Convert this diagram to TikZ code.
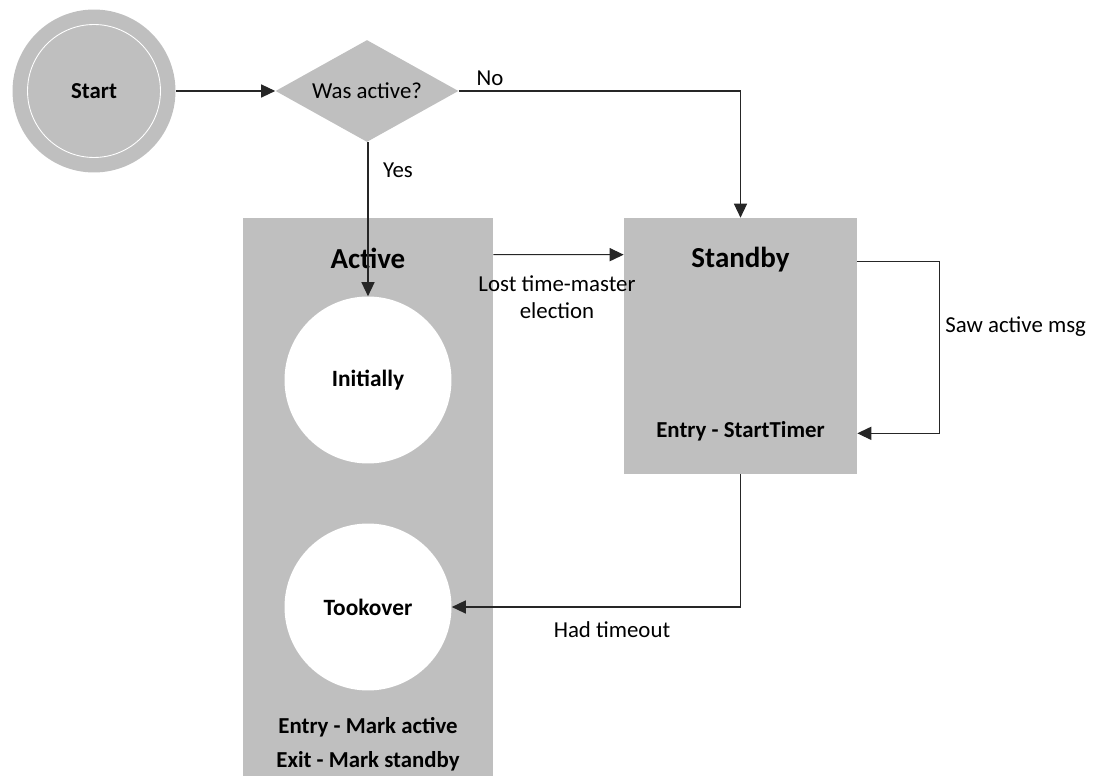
\documentclass[tikz,border=0pt]{standalone}
\usepackage{fontspec}
\setmainfont{Carlito}
\usetikzlibrary{shapes.geometric,arrows.meta}
\definecolor{stategray}{HTML}{BFBFBF}
\begin{document}
\begin{tikzpicture}[x=0.02cm,y=-0.02cm,
  statebox/.style={rectangle,fill=stategray,draw=none,inner sep=0pt},
  substate/.style={circle,fill=white,draw=none,minimum size=3.34cm,inner sep=0pt,font=\fontsize{13.3}{16}\selectfont\bfseries},
  title/.style={font=\fontsize{16.5}{20}\selectfont\bfseries,inner sep=0pt},
  note/.style={font=\fontsize{13}{19.3}\selectfont\bfseries,inner sep=0pt},
  lbl/.style={font=\fontsize{13}{15.3}\selectfont,inner sep=0pt},
  conn/.style={draw=black!85,line width=0.6pt,-{Triangle[length=8pt,width=7.5pt]}}]
\useasboundingbox (0,0) rectangle (1100,776);

% start state and decision
\node[circle,fill=stategray,minimum size=3.26cm,inner sep=0pt] (start) at (94,91) {};
\draw[white,line width=0.5pt] (start.center) circle[radius=1.33cm];
\node[note] (startT) at (start.center) {Start};
\node[diamond,fill=stategray,minimum width=3.66cm,minimum height=2.04cm,inner sep=0pt] (dec) at (367,91) {};
\node[lbl] (decT) at (dec.center) {Was active?};

% composite states
\node[statebox,minimum width=5cm,minimum height=11.16cm] (act) at (368,497) {};
\node[title] (actT) at (368,258) {Active};
\node[substate] (init) at (368,380) {Initially};
\node[substate] (took) at (368,607) {Tookover};
\node[note,align=center] (actN) at (368,744) {Entry - Mark active\\Exit - Mark standby};

\node[statebox,minimum width=4.66cm,minimum height=5.12cm] (stby) at (740.5,346) {};
\node[title] (stbyT) at (740.5,260) {Standby};
\node[note] (stbyN) at (740.5,431) {Entry - StartTimer};

% transitions
\draw[conn] (start.east) -- (dec.west);
\draw[conn] (dec.east) -| (stby.north);
\node[lbl] (no) at (490,78) {No};
\draw[conn] (dec.south -| init.north) -- (init.north);
\node[lbl] (yes) at (398,170) {Yes};
\draw[conn] ([yshift=-0.74cm]act.north east) -- ([yshift=-0.74cm]stby.north west);
\node[lbl,align=center] (lost) at (557,297) {Lost time-master\\election};
\draw[conn] ([yshift=-0.88cm]stby.north east) -- ++(82,0) coordinate (sawR)
  |- ([yshift=0.82cm]stby.south east);
\node[lbl,anchor=west] (saw) at (945,327) {Saw active msg};
\draw[conn] (stby.south) |- (took.east);
\node[lbl] (had) at (612,630) {Had timeout};
\end{tikzpicture}
\end{document}
